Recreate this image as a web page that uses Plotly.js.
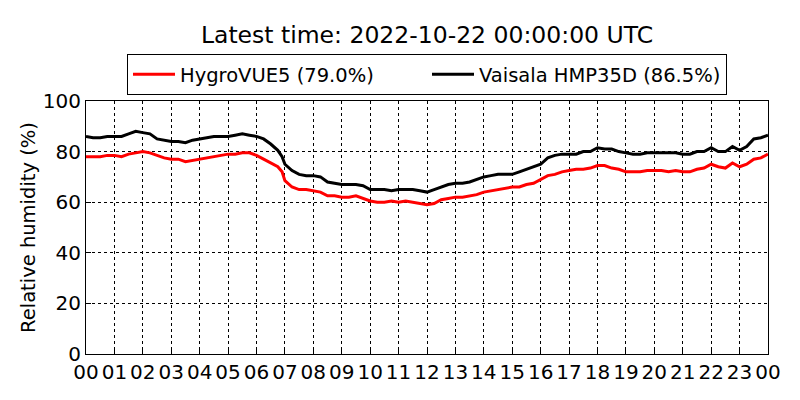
<!DOCTYPE html>
<html>
<head>
<meta charset="utf-8">
<script src="https://cdn.plot.ly/plotly-3.0.1.min.js"></script>
<style>
  html, body { margin: 0; padding: 0; background: #fff; }
  #chart { width: 800px; height: 400px; }
</style>
</head>
<body>
<div id="chart"></div>
<script>
// hours since 2022-10-21 00:00 UTC
const hours = [
  0, 0.25, 0.5, 0.75, 1, 1.25, 1.5, 1.75, 2, 2.25, 2.5, 2.75, 3, 3.25, 3.5, 3.75,
  4, 4.25, 4.5, 4.75, 5, 5.25, 5.5, 5.75, 6, 6.25, 6.5, 6.75, 6.9, 7, 7.25, 7.5, 7.75,
  8, 8.25, 8.5, 8.75, 9, 9.25, 9.5, 9.75, 10, 10.25, 10.5, 10.75, 11, 11.25, 11.5, 11.75,
  12, 12.25, 12.5, 12.75, 13, 13.25, 13.5, 13.75, 14, 14.25, 14.5, 14.75, 15, 15.25, 15.5, 15.75,
  16, 16.25, 16.5, 16.75, 17, 17.25, 17.5, 17.75, 18, 18.25, 18.5, 18.75, 19, 19.25, 19.5, 19.75,
  20, 20.25, 20.5, 20.75, 21, 21.25, 21.5, 21.75, 22, 22.25, 22.5, 22.75, 23, 23.25, 23.5, 23.75, 24
];

const hygrovue = [
  78, 78, 78, 78.5, 78.5, 78, 79, 79.5, 80, 79.5, 78.5, 77.5, 77, 77, 76, 76.5,
  77, 77.5, 78, 78.5, 79, 79, 79.5, 79.5, 78.5, 77, 75.5, 74, 72, 68.5, 66, 65, 65,
  64.5, 64, 62.5, 62.5, 62, 62, 62.5, 61.5, 60.5, 60, 60, 60.5, 60, 60.5, 60, 59.5,
  59, 59.5, 61, 61.5, 62, 62, 62.5, 63, 64, 64.5, 65, 65.5, 66, 66, 67, 67.5,
  69, 70.5, 71, 72, 72.5, 73, 73, 73.5, 74.5, 74.5, 73.5, 73, 72, 72, 72, 72.5,
  72.5, 72.5, 72, 72.5, 72, 72, 73, 73.5, 75, 74, 73.5, 75.5, 74, 75, 77, 77.5, 79
];

const vaisala = [
  86, 85.5, 85.5, 86, 86, 86, 87, 88, 87.5, 87, 85, 84.5, 84, 84, 83.5, 84.5,
  85, 85.5, 86, 86, 86, 86.5, 87, 86.5, 86, 85, 83, 80.5, 78, 75, 72.5, 71, 70.5,
  70.5, 70, 68, 67.5, 67, 67, 67, 66.5, 65, 65, 65, 64.5, 65, 65, 65, 64.5,
  64, 65, 66, 67, 67.5, 67.5, 68, 69, 70, 70.5, 71, 71, 71, 72, 73, 74,
  75, 77.5, 78.5, 79, 79, 79, 80, 80, 81.5, 81, 81, 80, 79.5, 79, 79, 79.5,
  79.5, 79.5, 79.5, 79.5, 79, 79, 80, 80, 81.5, 80, 80, 82, 80.5, 82, 85, 85.5, 86.5
];

const tickHours = [0,1,2,3,4,5,6,7,8,9,10,11,12,13,14,15,16,17,18,19,20,21,22,23,24];
const tickLabels = ['00','01','02','03','04','05','06','07','08','09','10','11','12',
  '13','14','15','16','17','18','19','20','21','22','23','00'];
const yTicks = [0, 20, 40, 60, 80, 100];

const font = 'DejaVu Sans, sans-serif';

const traces = [
  {
    x: hours, y: hygrovue, type: 'scatter', mode: 'lines',
    name: 'HygroVUE5 (79.0%)',
    line: {color: '#ff0000', width: 3}
  },
  {
    x: hours, y: vaisala, type: 'scatter', mode: 'lines',
    name: 'Vaisala HMP35D (86.5%)',
    line: {color: '#000000', width: 3}
  }
];

const layout = {
  width: 800, height: 400,
  margin: {l: 86, r: 32, t: 101, b: 46},
  paper_bgcolor: '#fff',
  plot_bgcolor: '#fff',
  font: {family: font, size: 20, color: '#000'},
  title: {
    text: 'Latest time: 2022-10-22 00:00:00 UTC',
    font: {family: font, size: 23.5, color: '#000'},
    xref: 'paper', x: 0.5, xanchor: 'center', y: 0.9125, yanchor: 'middle'
  },
  showlegend: true,
  legend: {
    orientation: 'h', x: 0.5, xanchor: 'center', y: 1.185, yanchor: 'top',
    bordercolor: '#000', borderwidth: 1, bgcolor: '#fff',
    font: {family: font, size: 19.5, color: '#000'},
    itemwidth: 42, entrywidth: 242
  },
  xaxis: {
    range: [0, 24],
    tickmode: 'array', tickvals: tickHours, ticktext: tickLabels,
    showgrid: true, gridcolor: '#000', griddash: 'dot', gridwidth: 1,
    showline: true, mirror: true, linecolor: '#000', linewidth: 1,
    ticks: 'inside', ticklen: 5, tickcolor: '#000',
    zeroline: false,
    tickfont: {family: font, size: 20}
  },
  yaxis: {
    range: [0, 100],
    tickmode: 'array', tickvals: yTicks,
    showgrid: true, gridcolor: '#000', griddash: 'dot', gridwidth: 1,
    showline: true, mirror: true, linecolor: '#000', linewidth: 1,
    ticks: 'inside', ticklen: 5, tickcolor: '#000',
    zeroline: false,
    tickfont: {family: font, size: 20},
    title: {text: 'Relative humidity (%)', font: {family: font, size: 19.5}, standoff: 1}
  }
};

Plotly.newPlot('chart', traces, layout, {displayModeBar: false, staticPlot: true});
</script>
</body>
</html>
